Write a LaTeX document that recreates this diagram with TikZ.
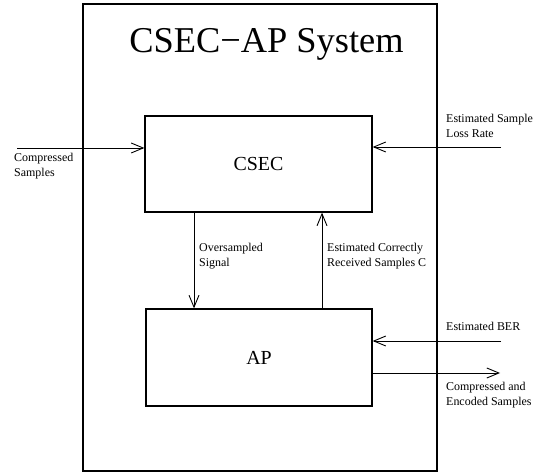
\documentclass[tikz,border=0pt]{standalone}
\usepackage{fontspec}
\setmainfont{Liberation Serif}
\usetikzlibrary{arrows.meta}
\begin{document}
\begin{tikzpicture}[x=1bp,y=-1bp,
  outerbox/.style={draw,line width=1.8bp},
  blockbox/.style={draw,line width=1.3bp},
  sig/.style={line width=0.9bp,-{Straight Barb[length=12bp,width=10bp,line width=0.9bp]}},
  lbl/.style={font=\fontsize{12}{15.5}\selectfont,align=left,anchor=base west,inner sep=0pt},
]
\useasboundingbox (0,0) rectangle (549,475);
\draw[outerbox] (83,4) rectangle (437,471);
\node[font=\fontsize{36.5}{40}\selectfont,anchor=base,inner sep=0pt] (title) at (266.5,53) {CSEC−AP System};
\node[blockbox,minimum width=227bp,minimum height=96bp,font=\fontsize{20}{24}\selectfont] (csec) at (258.5,164) {CSEC};
\node[blockbox,minimum width=226bp,minimum height=97bp,font=\fontsize{20}{24}\selectfont] (ap) at (259,357.5) {AP};
\coordinate (inA) at (17,148);
\coordinate (inB) at (501,147);
\coordinate (inC) at (501,341);
\coordinate (outD) at (500,373);
\draw[sig] (inA) -- (inA -| csec.west);
\draw[sig] (inB) -- (inB -| csec.east);
\draw[sig] (inC) -- (inC -| ap.east);
\draw[sig] (outD -| ap.east) -- (outD);
\draw[sig] (194,0 |- csec.south) -- (194,0 |- ap.north);
\draw[sig] (322,0 |- ap.north) -- (322,0 |- csec.south);
\node[lbl] (l1) at (14,176.5) {Compressed\\Samples};
\node[lbl] (l2) at (446,137.5) {Estimated Sample\\Loss Rate};
\node[lbl] (l3) at (199,266.5) {Oversampled\\Signal};
\node[lbl] (l4) at (327,266.5) {Estimated Correctly\\Received Samples C};
\node[lbl] (l5) at (446,330) {Estimated BER};
\node[lbl] (l6) at (446,405.5) {Compressed and\\Encoded Samples};
\end{tikzpicture}
\end{document}
